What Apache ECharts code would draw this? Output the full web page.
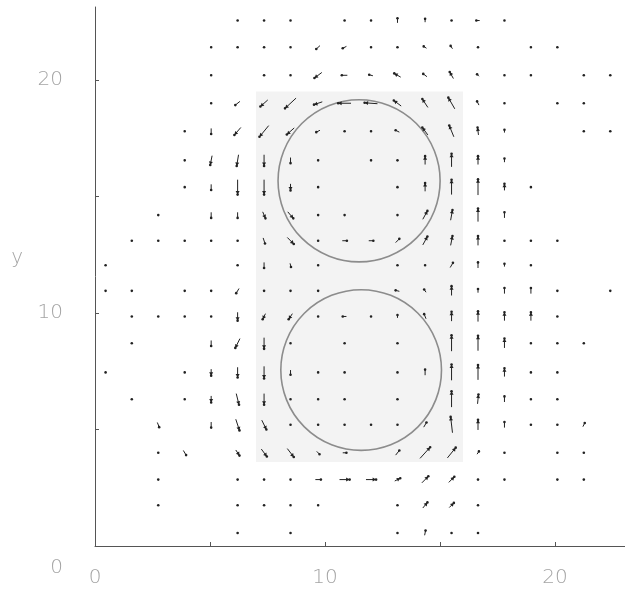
<!DOCTYPE html>
<html><head><meta charset="utf-8">
<script src="https://cdn.jsdelivr.net/npm/echarts/dist/echarts.min.js"></script>
<style>html,body{margin:0;padding:0;background:#fff}#c{width:625px;height:596px}</style>
</head><body><div id="c"></div>
<script>
// grid column x positions and row y positions (data units)
const colX = [0.46, 1.6, 2.75, 3.9, 5.05, 6.2, 7.35, 8.5, 9.7, 10.85, 12.0, 13.15, 14.35, 15.5, 16.65, 17.8, 18.95, 20.1, 21.25, 22.4];
const rowY = [0.56, 1.75, 2.85, 4.0, 5.2, 6.3, 7.45, 8.7, 9.85, 10.95, 12.05, 13.1, 14.2, 15.4, 16.55, 17.8, 19.0, 20.2, 21.4, 22.55];

// vectors: [column index, row index, u, v]
const vectorsTop = [
  [5,19,0,0],[6,19,0,0],[7,19,0,0],[9,19,0,0],[10,19,0,0],[11,19,0,0.25],[12,19,0,0.18],[13,19,0,0],[14,19,-0.18,0],[15,19,0,0],
  [4,18,0,0],[5,18,0,0],[6,18,0,0],[7,18,0,0],[8,18,-0.2,-0.18],[9,18,-0.2,-0.1],[10,18,0,0],[11,18,0,0],[12,18,-0.15,0.1],[13,18,-0.1,0.15],[14,18,0,0],[16,18,0,0],[17,18,0,0],
  [4,17,0,0],[6,17,0,0],[7,17,0,0],[8,17,-0.4,-0.3],[9,17,-0.3,0],[10,17,-0.2,0.05],[11,17,-0.35,0.2],[12,17,-0.2,0.15],[13,17,-0.2,0.35],[14,17,-0.1,0.1],[15,17,0,0],[16,17,0,0],[18,17,0,0],[19,17,0,0],
  [4,16,0,0],[5,16,-0.25,-0.2],[6,16,-0.4,-0.35],[7,16,-0.6,-0.55],[8,16,-0.45,-0.15],[9,16,-0.7,0],[10,16,-0.7,0.05],[11,16,-0.4,0.3],[12,16,-0.3,0.45],[13,16,-0.35,0.6],[14,16,-0.1,0.2],[15,16,0,0],[17,16,0,0],[18,16,0,0]
];
const vectorsUpperCircle = [
  [3,15,0,0],[4,15,0,-0.3],[5,15,-0.35,-0.4],[6,15,-0.5,-0.6],[7,15,-0.4,-0.35],[8,15,-0.2,-0.1],[9,15,0,0],[10,15,0,0],[11,15,-0.2,0.1],[12,15,-0.3,0.4],[13,15,-0.25,0.6],[14,15,-0.05,0.4],[15,15,0,0.15],[18,15,0,0],[19,15,0,0],
  [3,14,0,0],[4,14,-0.1,-0.5],[5,14,-0.1,-0.6],[6,14,0,-0.6],[7,14,0,-0.3],[8,14,0,0],[10,14,0,0],[11,14,0,0],[12,14,0,0.45],[13,14,0,0.7],[14,14,0,0.45],[15,14,0,0.2],
  [3,13,0,0],[4,13,0,-0.3],[5,13,0,-0.8],[6,13,0,-0.8],[7,13,0,-0.35],[8,13,0,0],[11,13,0,0],[12,13,0,0.45],[13,13,0,0.8],[14,13,0,0.85],[15,13,0,0.35],[16,13,0,0],
  [2,12,0,0],[4,12,0,-0.3],[5,12,0,-0.3],[6,12,0.15,-0.35],[7,12,0.3,-0.35],[8,12,0,0],[9,12,0,0],[11,12,0,0],[12,12,0.25,0.45],[13,12,0.1,0.55],[14,12,0,0.7],[15,12,0,0.3],
  [1,11,0,0],[2,11,0,0],[3,11,0,0],[4,11,0,0],[5,11,0,0],[6,11,0.1,-0.3],[7,11,0.35,-0.35],[8,11,0,0],[9,11,0.25,0],[10,11,0.25,0],[11,11,0.2,0.2],[12,11,0.25,0.45],[13,11,0.1,0.5],[14,11,0,0.5],[15,11,0,0],[16,11,0,0],[17,11,0,0],
  [0,10,0,0],[5,10,0,0],[6,10,0,-0.3],[7,10,0.05,-0.2],[8,10,0,0],[11,10,0,0],[12,10,0,0],[13,10,0.15,0.25],[14,10,0,0.3],[15,10,0,0.15],[16,10,0,0]
];
const vectorsLowerCircle = [
  [0,9,0,0],[1,9,0,0],[3,9,0,0],[4,9,0,0],[5,9,-0.15,-0.25],[6,9,0,0],[7,9,0,0],[8,9,0,0],[11,9,-0.2,0.05],[12,9,-0.1,0.15],[13,9,0,0.5],[14,9,0,0.2],[15,9,0,0.3],[16,9,0,0.3],[17,9,0,0],[19,9,0,0],
  [1,8,0,0],[2,8,0,0],[3,8,0,0],[4,8,0,0],[5,8,0,-0.45],[6,8,-0.15,-0.3],[7,8,-0.2,-0.3],[8,8,0,0],[9,8,-0.2,0],[10,8,0,0],[11,8,0,0.15],[12,8,-0.1,0.25],[13,8,0,0.5],[14,8,0,0.55],[15,8,0,0.45],[16,8,0,0.45],[17,8,0,0],
  [1,7,0,0],[4,7,0,-0.3],[5,7,-0.25,-0.5],[6,7,0,-0.6],[7,7,0,0],[9,7,0,0],[11,7,0,0],[13,7,0,0.85],[14,7,0,0.8],[15,7,0,0.5],[16,7,0,0],[17,7,0,0],[18,7,0,0],
  [0,6,0,0],[3,6,0,0],[4,6,0,-0.35],[5,6,0,-0.55],[6,6,0,-0.65],[7,6,0,-0.25],[8,6,0,0],[9,6,0,0],[11,6,0,0],[12,6,0,0.3],[13,6,0,0.85],[14,6,0,0.8],[15,6,0,0.45],[16,6,0,0],[17,6,0,0],
  [1,5,0,0],[3,5,0,0],[4,5,0,-0.35],[5,5,0.15,-0.6],[6,5,0,-0.6],[7,5,0,0],[8,5,0,0],[9,5,0,0],[11,5,0,0],[13,5,0,0.85],[14,5,0.05,0.5],[15,5,0,0.3],[16,5,0,0],[17,5,0,0],
  [2,4,0.1,-0.25],[4,4,0,-0.3],[5,4,0.2,-0.6],[6,4,0.25,-0.5],[7,4,0,0],[8,4,0,0],[9,4,0,0],[10,4,0,0],[11,4,0,0],[12,4,0.15,0.25],[13,4,-0.1,0.85],[14,4,0,0.55],[15,4,0,0.3],[16,4,0,0],[17,4,0,0],[18,4,0.1,0.2]
];
const vectorsBottom = [
  [2,3,0,0],[3,3,0.15,-0.25],[5,3,0.2,-0.3],[6,3,0.3,-0.4],[7,3,0.35,-0.45],[8,3,0.15,-0.15],[9,3,0.2,0],[11,3,0.2,0.25],[12,3,0.55,0.6],[13,3,0.45,0.55],[14,3,0.1,0.15],[15,3,0,0],[17,3,0,0],[18,3,0,0],
  [2,2,0,0],[5,2,0,0],[6,2,0,0],[7,2,0,0],[8,2,0.3,0],[9,2,0.55,0],[10,2,0.55,0],[11,2,0.3,0.15],[12,2,0.35,0.35],[13,2,0.3,0.3],[14,2,0,0],[15,2,0,0],[17,2,0,0],[18,2,0,0],
  [2,1,0,0],[5,1,0,0],[6,1,0,0],[7,1,0,0],[8,1,0,0],[11,1,0,0],[12,1,0.25,0.3],[13,1,0.25,0.25],[14,1,0,0],
  [5,0,0,0],[7,0,0,0],[11,0,0,0],[12,0,0.05,0.25],[13,0,0,0],[14,0,0,0]
];
// cylinders: [cx, cy, r]
const circles = [[11.48, 15.67, 3.5], [11.57, 7.55, 3.47]];
// shaded rectangle: [x0, y0, x1, y1]
const shadeBox = [[7.0, 3.6, 16.0, 19.5]];
const xTickValues = [0, 5, 10, 15, 20];
const xLabelValues = [0, 10, 20];
const yTickValues = [0, 5, 10, 15, 20];
const yLabelValues = [0, 10, 20];

const allVectors = [].concat(vectorsTop, vectorsUpperCircle, vectorsLowerCircle, vectorsBottom)
  .map(d => [colX[d[0]], rowY[d[1]], d[2], d[3]]);

const labelStyle = {color: '#a4a4a4', fontSize: 20, fontFamily: 'DejaVu Sans', fontWeight: 200};
const arrowScale = 0.8;

const chart = echarts.init(document.getElementById('c'), null, {renderer: 'canvas'});
chart.setOption({
  backgroundColor: '#fff',
  animation: false,
  grid: {left: 95, right: 0, top: 7, bottom: 50},
  xAxis: {
    type: 'value', min: 0, max: 23.04, interval: 5,
    splitLine: {show: false},
    axisLine: {lineStyle: {color: '#555', width: 1}},
    axisTick: {inside: true, length: 4, customValues: xTickValues, lineStyle: {color: '#555'}},
    axisLabel: Object.assign({margin: 22, customValues: xLabelValues}, labelStyle)
  },
  yAxis: {
    type: 'value', min: 0, max: 23.13, interval: 5,
    name: '{a|y}', nameLocation: 'middle', nameGap: 72, nameRotate: 0,
    nameTextStyle: Object.assign({rich: {a: Object.assign({padding: [0, 0, 38, 0]}, labelStyle)}}, labelStyle),
    splitLine: {show: false},
    axisLine: {lineStyle: {color: '#555', width: 1}},
    axisTick: {inside: true, length: 4, customValues: yTickValues, lineStyle: {color: '#555'}},
    axisLabel: Object.assign({
      margin: 32, customValues: yLabelValues,
      formatter: v => v === 0 ? '{z|0}' : String(v),
      rich: {z: Object.assign({padding: [44, 0, 0, 0]}, labelStyle)}
    }, labelStyle)
  },
  series: [
    {
      type: 'custom', z: 1, silent: true,
      data: shadeBox,
      encode: {x: [0, 2], y: [1, 3]},
      renderItem: (p, api) => {
        const a = api.coord([api.value(0), api.value(3)]);
        const b = api.coord([api.value(2), api.value(1)]);
        return {type: 'rect', shape: {x: a[0], y: a[1], width: b[0] - a[0], height: b[1] - a[1]},
          style: {fill: '#f3f3f3'}};
      }
    },
    {
      type: 'custom', z: 2, silent: true,
      data: circles,
      encode: {x: 0, y: 1},
      renderItem: (p, api) => {
        const c = api.coord([api.value(0), api.value(1)]);
        const r = api.value(2);
        const rx = api.size([r, 0])[0], ry = api.size([0, r])[1];
        return {type: 'circle', shape: {cx: c[0], cy: c[1], r: (rx + ry) / 2},
          style: {fill: 'none', stroke: '#8c8c8c', lineWidth: 1.6}};
      }
    },
    {
      type: 'custom', z: 3, silent: true,
      data: allVectors,
      encode: {x: 0, y: 1},
      renderItem: (p, api) => {
        const x = api.value(0), y = api.value(1);
        const u = api.value(2) * arrowScale, v = api.value(3) * arrowScale;
        const head = api.coord([x + u / 2, y + v / 2]);
        const tail = api.coord([x - u / 2, y - v / 2]);
        const dx = head[0] - tail[0], dy = head[1] - tail[1];
        const len = Math.hypot(dx, dy);
        const children = [];
        const col = '#222';
        if (len > 1.5) {
          children.push({type: 'line', shape: {x1: tail[0], y1: tail[1], x2: head[0], y2: head[1]},
            style: {stroke: col, lineWidth: 1}});
          if (len > 6) {
            const ux = dx / len, uy = dy / len, hl = 3.5, hw = 2;
            const bx = head[0] - ux * hl, by = head[1] - uy * hl;
            children.push({type: 'polygon', shape: {points: [
              [head[0], head[1]], [bx - uy * hw, by + ux * hw], [bx + uy * hw, by - ux * hw]]},
              style: {fill: col}});
          }
        }
        children.push({type: 'circle', shape: {cx: head[0], cy: head[1], r: 1.3}, style: {fill: col}});
        return {type: 'group', children};
      }
    }
  ]
});
</script>
</body></html>
